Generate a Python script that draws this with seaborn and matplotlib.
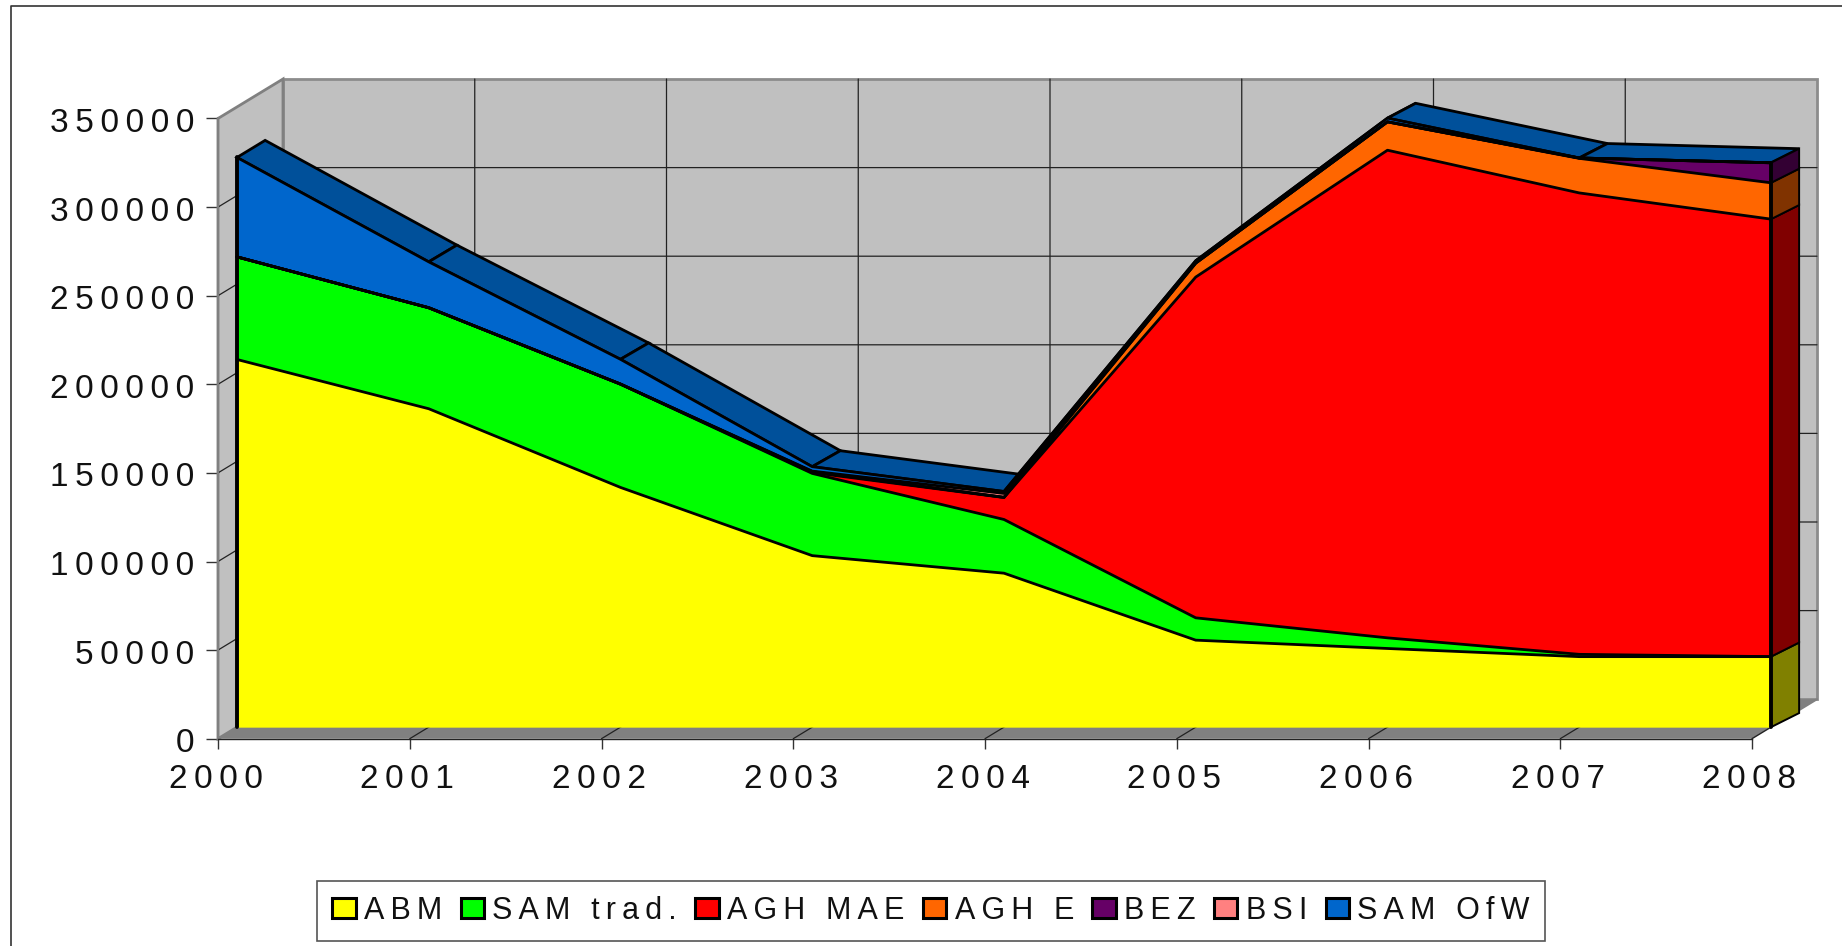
import matplotlib.pyplot as plt
import numpy as np
import pandas as pd
import seaborn as sns
from matplotlib.lines import Line2D
from matplotlib.patches import Patch
from matplotlib.transforms import Affine2D

# Data
years = [2000, 2001, 2002, 2003, 2004, 2005, 2006, 2007, 2008]
y_ticks = [0, 50000, 100000, 150000, 200000, 250000, 300000, 350000]

abm = [207500, 179700, 135300, 96800, 86900, 49100, 44400, 39800, 39800]
sam_trad = [57900, 57000, 58300, 46400, 30300, 12600, 6000, 1300, 0]
agh_mae = [0, 0, 0, 500, 12400, 192300, 275200, 260400, 246900]
agh_e = [0, 0, 0, 500, 100, 7900, 16000, 19500, 20500]
bez = [0, 0, 0, 0, 0, 0, 0, 200, 11300]
bsi = [0, 0, 0, 300, 2200, 0, 0, 0, 0]
sam_ofw = [56100, 25900, 14000, 2500, 1100, 1300, 2100, 0, 0]

names = ["ABM", "SAM trad.", "AGH MAE", "AGH E", "BEZ", "BSI", "SAM OfW"]
values = [abm, sam_trad, agh_mae, agh_e, bez, bsi, sam_ofw]
colors = ["#FFFF00", "#00FF00", "#FF0000", "#FF6600", "#660066", "#FF8080", "#0066CC"]
side_colors = ["#808000", "#008000", "#800000", "#803300", "#330033", "#804040", "#00509A"]

W, H = 1842, 946


def spaced(text):
    # the original has wide tracking, thin spaces are the nearest thing
    return "\u2009".join(text)


sns.set_style("white")
plt.rcParams["font.family"] = ["Liberation Sans", "DejaVu Sans"]

fig = plt.figure(figsize=(W / 100, H / 100), dpi=100)
ax = fig.add_axes([218 / W, (H - 738.7) / H, (1752 - 218) / W, (738.7 - 118.5) / H])
ax.patch.set_alpha(0)

# Depth of the fake 3D box, in data units
DX = 65 * 8 / 1534
DY = 39.5 * 350000 / 620.2
FRONT = 0.292
BACK = 0.725
x0, x1 = years[0], years[-1]
y_top = y_ticks[-1]

# Walls and floor
ax.fill([x0 + DX, x1 + DX, x1 + DX, x0 + DX], [DY, DY, y_top + DY, y_top + DY], color="#C0C0C0", ec="#8C8C8C", lw=2, zorder=1, clip_on=False)
ax.fill([x0, x0 + DX, x0 + DX, x0], [0, DY, y_top + DY, y_top], color="#C0C0C0", ec="#808080", lw=2, zorder=1, clip_on=False)
ax.fill([x0, x1, x1 + DX, x0 + DX], [0, 0, DY, DY], color="#808080", lw=0, zorder=1.2, clip_on=False)

# Grid on the walls
for t in y_ticks[1:-1]:
    ax.plot([x0, x0 + DX, x1 + DX], [t, t + DY, t + DY], color="#222222", lw=0.9, zorder=1.5, clip_on=False)
for yr in years[1:-1]:
    ax.plot([yr, yr + DX, yr + DX], [0, DY, y_top + DY], color="#222222", lw=0.9, zorder=1.5, clip_on=False)
ax.plot([x1, x1 + DX * FRONT], [0, DY * FRONT], color="#222222", lw=1, zorder=1.6, clip_on=False)
ax.plot([x1 + DX * BACK, x1 + DX], [DY * BACK, DY], color="#808080", lw=1.5, zorder=1.6, clip_on=False)

# Stacked series
xs = np.array(years, dtype=float)
cum = np.cumsum(np.array(values, dtype=float), axis=0)
bottoms = np.vstack([np.zeros(len(years)), cum[:-1]])
x_front = xs + DX * FRONT
x_back = xs + DX * BACK
lift_front = DY * FRONT
# back edge sinks a little towards the right in the original
lift_back = DY * BACK - (xs - x0) / 8 * 1700

# Top faces sit behind the front so the ones facing away stay hidden
top = cum[-1]
for i in range(len(years) - 1):
    ax.fill(
        [x_front[i], x_front[i + 1], x_back[i + 1], x_back[i]],
        [top[i] + lift_front, top[i + 1] + lift_front, top[i + 1] + lift_back[i + 1], top[i] + lift_back[i]],
        facecolor="#00509A", edgecolor="black", lw=2, zorder=3, clip_on=False,
    )

for name, color, low, high in zip(names, colors, bottoms, cum):
    ax.fill_between(x_front, low + lift_front, high + lift_front, color=color, lw=0, zorder=4, clip_on=False)

# End caps on the right
for side, low, high in zip(side_colors, bottoms, cum):
    if high[-1] - low[-1] <= 0:
        continue
    ax.fill(
        [x_front[-1], x_back[-1], x_back[-1], x_front[-1]],
        [low[-1] + lift_front, low[-1] + lift_back[-1], high[-1] + lift_back[-1], high[-1] + lift_front],
        facecolor=side, edgecolor="black", lw=1.4, zorder=4.5, clip_on=False,
    )

# Outlines of the layers
df_lines = pd.DataFrame(
    {
        "x": np.tile(x_front, len(names)),
        "y": (cum + lift_front).ravel(),
        "series": np.repeat(names, len(years)),
    }
)
sns.lineplot(
    data=df_lines, x="x", y="y", hue="series", palette=["black"] * len(names),
    estimator=None, sort=False, legend=False, lw=2, zorder=5, clip_on=False, ax=ax,
)
ax.plot([x_front[0]] * 2, [lift_front, top[0] + lift_front], color="black", lw=2.8, zorder=5, clip_on=False)
ax.plot([x_front[-1]] * 2, [lift_front, top[-1] + lift_front], color="black", lw=2.8, zorder=5, clip_on=False)

# Axes
ax.set_xlim(x0, x1)
ax.set_ylim(0, y_top)
ax.set_xlabel("")
ax.set_ylabel("")
ax.set_xticks(years)
ax.set_xticklabels([spaced(str(v)) for v in years])
ax.set_yticks(y_ticks)
ax.set_yticklabels([spaced(str(v)) for v in y_ticks])
ax.tick_params(axis="y", length=8.6, width=1, color="#333333", pad=8.6, labelsize=24, labelcolor="#111111", left=True)
ax.tick_params(axis="x", length=7, width=1, color="#333333", pad=11, labelsize=24, labelcolor="#111111", bottom=True)
for label in ax.get_xticklabels():
    label.set_transform(label.get_transform() + Affine2D().translate(-2.5, 0))
for label in ax.get_yticklabels():
    label.set_transform(label.get_transform() + Affine2D().translate(0, -1.5))
sns.despine(ax=ax, top=True, right=True)
ax.spines["left"].set_color("#808080")
ax.spines["left"].set_linewidth(1.5)
ax.spines["bottom"].set_color("#222222")
ax.spines["bottom"].set_linewidth(1)

# Legend
handles = [Patch(facecolor=c, edgecolor="black", linewidth=2.2) for c in colors]
leg = fig.legend(
    handles, [spaced(n) for n in names], ncol=len(names), loc="center", bbox_to_anchor=(931 / W, (H - 911) / H),
    fontsize=22, frameon=True, fancybox=False, framealpha=1, edgecolor="#555555",
    handlelength=0.76, handleheight=0.62, handletextpad=0.28, columnspacing=0.6,
    borderpad=0.5, borderaxespad=0, labelcolor="#111111",
)
leg.get_frame().set_linewidth(1.2)

# Outer frame, only top and left fall inside the picture
fig.add_artist(Line2D([10.5 / W, 10.5 / W, 1], [0, (H - 5.7) / H, (H - 5.7) / H], color="#333333", lw=1.2))

fig.savefig("out.png", dpi=100)
